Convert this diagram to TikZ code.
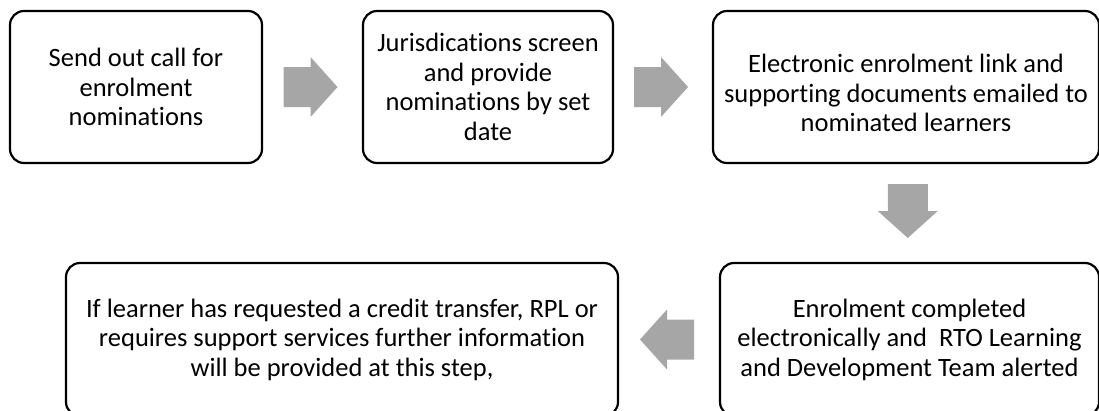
\documentclass[tikz,border=0pt]{standalone}
\usepackage{fontspec}
\setmainfont{Carlito}[Ligatures={NoCommon}]
\usetikzlibrary{calc}
\definecolor{arrowgray}{HTML}{A6A6A6}
\tikzset{
  stepbox/.style={draw=black, line width=2.2pt, rounded corners=14pt, fill=white,
    align=center, inner sep=0pt, font=\fontsize{26.5}{29.5}\selectfont},
  steptext/.style={align=center, inner sep=0pt, font=\fontsize{26.5}{29.5}\selectfont},
  blkarrow/.pic={\fill[arrowgray] (-27,-20) -- (0,-20) -- (0,-30) -- (27,0) -- (0,30) -- (0,20) -- (-27,20) -- cycle;}
}
\begin{document}
\begin{tikzpicture}[x=1pt,y=-1pt]
\useasboundingbox (0,0) rectangle (1099,410);
\node[stepbox, minimum width=252pt, minimum height=152pt] (b1) at (136,87)
  {Send out call for\\enrolment\\nominations};
\node[stepbox, minimum width=250pt, minimum height=152pt] (b2) at (488,87)
  {Jurisdications screen\\and provide\\nominations by set\\date};
\node[stepbox, minimum width=386pt, minimum height=152pt] (b3) at (906,87) {};
\node[steptext] (t3) at ([yshift=-6pt]b3.center)
  {Electronic enrolment link and\\supporting documents emailed to\\nominated learners};
\node[stepbox, minimum width=379pt, minimum height=153pt] (b5) at (909.5,339.5)
  {Enrolment completed\\electronically and~ RTO Learning\\and Development Team alerted};
\node[stepbox, minimum width=552pt, minimum height=153pt] (b4) at (342,339.5)
  {If learner has requested a credit transfer, RPL or\\requires support services further information\\will be provided at this step,};
\path ($(b1.east)!0.5!(b2.west)$) pic[xshift=-2pt] {blkarrow};
\path ($(b2.east)!0.5!(b3.west)$) pic[xshift=-2pt] {blkarrow};
\path ($(b3.south)!0.5!(b5.north)$) pic[rotate=-90, xshift=-2pt] {blkarrow};
\path ($(b5.west)!0.5!(b4.east)$) pic[rotate=180, xshift=2pt] {blkarrow};
\end{tikzpicture}
\end{document}
